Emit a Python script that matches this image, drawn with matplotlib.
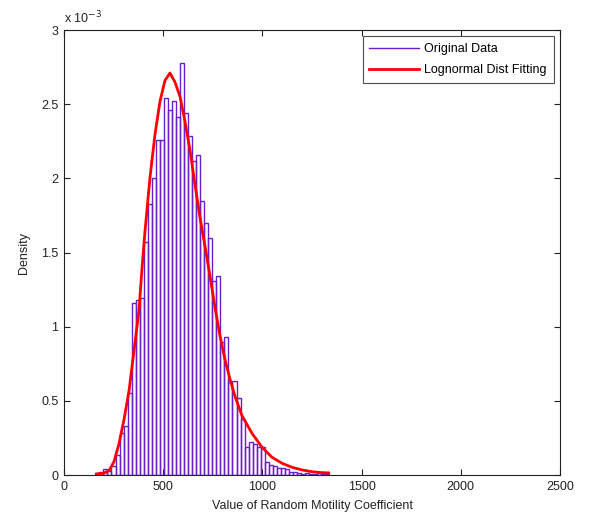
import numpy as np
import matplotlib
matplotlib.use("Agg")
import matplotlib.pyplot as plt
from matplotlib.lines import Line2D

plt.rcParams['font.family'] = ['Liberation Sans', 'DejaVu Sans']

# Histogram: 58 bins between these limits
bin_start = 158.0
bin_end = 1337.0
density_e3 = [0.011, 0.018, 0.038, 0.030, 0.060, 0.135, 0.285, 0.330, 0.550, 1.157,
              1.180, 1.190, 1.570, 1.830, 2.000, 2.260, 2.260, 2.540, 2.460, 2.520,
              2.415, 2.775, 2.440, 2.285, 2.120, 2.160, 1.850, 1.700, 1.595, 1.307,
              1.343, 0.898, 0.928, 0.629, 0.634, 0.520, 0.380, 0.190, 0.220, 0.210,
              0.190, 0.190, 0.085, 0.070, 0.060, 0.045, 0.050, 0.040, 0.022, 0.022,
              0.011, 0.008, 0.016, 0.008, 0.008, 0.011, 0.008, 0.005]

# Lognormal fit curve
curve_x = [165, 200, 227, 252, 277, 302, 328, 353, 378, 393, 408, 433, 459, 484, 509,
           534, 559, 585, 610, 635, 660, 685, 711, 736, 761, 786, 811, 837, 862, 897,
           948, 998, 1048, 1099, 1149, 1200, 1250, 1300, 1334]
curve_y_e3 = [0.007, 0.012, 0.030, 0.090, 0.210, 0.370, 0.570, 0.840, 1.110, 1.390,
              1.640, 2.000, 2.300, 2.520, 2.660, 2.710, 2.650, 2.550, 2.380, 2.190,
              1.960, 1.740, 1.540, 1.340, 1.130, 0.940, 0.780, 0.645, 0.530, 0.400,
              0.280, 0.187, 0.120, 0.079, 0.052, 0.034, 0.022, 0.016, 0.014]

x_ticks = [0, 500, 1000, 1500, 2000, 2500]
y_ticks_e3 = [0, 0.5, 1, 1.5, 2, 2.5, 3]

purple = '#6a1fcf'
red = '#ff0000'

fig = plt.figure(figsize=(5.92, 5.16), dpi=100)
ax = fig.add_axes([64/592, 41/516, 496/592, 445/516])

n = len(density_e3)
edges = np.linspace(bin_start, bin_end, n + 1)
centers = (edges[:-1] + edges[1:]) / 2
width = edges[1] - edges[0]
heights = np.array(density_e3) * 1e-3

ax.bar(centers, heights, width=width, facecolor='none', edgecolor=purple,
       linewidth=1.0, zorder=2)
ax.plot(curve_x, np.array(curve_y_e3) * 1e-3, color=red, linewidth=2.0, zorder=3,
        solid_joinstyle='round')

ax.set_xlim(0, 2500)
ax.set_ylim(0, 3e-3)
ax.set_xticks(x_ticks)
ax.set_xticklabels([str(t) for t in x_ticks])
ax.set_yticks([v * 1e-3 for v in y_ticks_e3])
ax.set_yticklabels(['0', '0.5', '1', '1.5', '2', '2.5', '3'])
ax.tick_params(direction='in', top=True, right=True, length=4, width=0.8,
               labelsize=9, colors='#222222', pad=4)
for s in ax.spines.values():
    s.set_color('#222222')
    s.set_linewidth(0.8)

ax.set_xlabel('Value of Random Motility Coefficient', fontsize=9, color='#222222', labelpad=5)
ax.set_ylabel('Density', fontsize=9, color='#222222', labelpad=8)
ax.text(0.0, 1.008, 'x 10$^{-3}$', transform=ax.transAxes, fontsize=9,
        color='#222222', ha='left', va='bottom')

handles = [Line2D([0], [0], color=purple, lw=1.0),
           Line2D([0], [0], color=red, lw=2.0)]
leg = ax.legend(handles, ['Original Data', 'Lognormal Dist Fitting'], loc='upper right',
                fontsize=9, frameon=True, fancybox=False, edgecolor='#222222',
                borderaxespad=0.5, handlelength=4.0, handletextpad=0.4,
                borderpad=0.55, labelspacing=0.75)
leg.get_frame().set_linewidth(0.8)

fig.savefig('out.png', dpi=100, facecolor='white')
